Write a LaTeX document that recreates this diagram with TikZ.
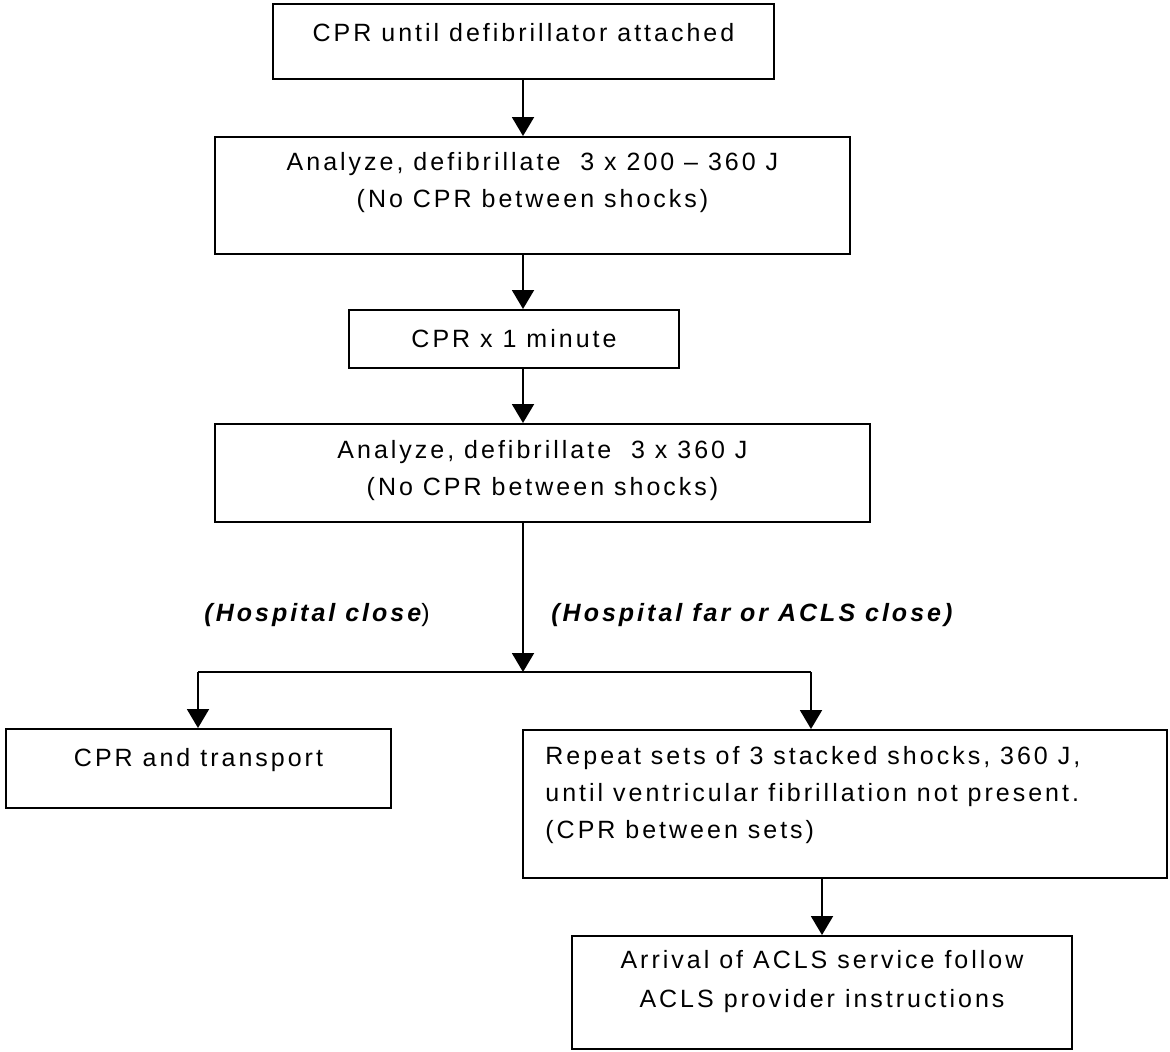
\documentclass[tikz,border=0pt]{standalone}
\usepackage{fontspec}
\newfontfamily\flowfont{Liberation Sans}[LetterSpace=12,Ligatures=NoCommon]
\usetikzlibrary{arrows.meta}
\begin{document}
\begin{tikzpicture}[x=0.5pt,y=-0.5pt,
  box/.style={draw, line width=1pt, rectangle, inner sep=0pt},
  txt/.style={font=\flowfont\fontsize{12.5}{18.5}\selectfont, inner sep=0pt, align=center},
  lbl/.style={font=\flowfont\fontsize{12.5}{18.5}\selectfont, inner sep=0pt},
  flow/.style={line width=1pt, -{Triangle[width=11pt,length=9.5pt]}},
  link/.style={line width=1pt}]

\useasboundingbox (0,0) rectangle (1170,1051);

% boxes
\node[box, minimum width=250.5pt, minimum height=37.5pt] (b1) at (523.5,41.5) {};
\node[box, minimum width=317.5pt, minimum height=58.5pt] (b2) at (532.5,195.5) {};
\node[box, minimum width=165pt,   minimum height=29pt]   (b3) at (514,339) {};
\node[box, minimum width=327.5pt, minimum height=49pt]   (b4) at (542.5,473) {};
\node[box, minimum width=192.5pt, minimum height=39.5pt] (b5) at (198.5,768.5) {};
\node[box, minimum width=322pt,   minimum height=74pt]   (b6) at (845,804) {};
\node[box, minimum width=250pt,   minimum height=56.5pt] (b7) at (822,992.5) {};

% box texts
\node[txt] (t1) at (523.5,33) {CPR until defibrillator attached};
\node[txt] (t2) at (532.5,183) {Analyze, defibrillate\ \ 3 x 200 – 360 J\\(No CPR between shocks)};
\node[txt] (t3) at (514,339) {CPR x 1 minute};
\node[txt] (t4) at (542.5,471) {Analyze, defibrillate\ \ 3 x 360 J\\(No CPR between shocks)};
\node[txt] (t5) at (198.5,760) {CPR and transport};
\node[txt, align=left, anchor=west] (t6) at (545,795) {Repeat sets of 3 stacked shocks, 360 J,\\until ventricular fibrillation not present.\\(CPR between sets)};
\node[txt, font=\flowfont\fontsize{12.5}{19.5}\selectfont] (t7) at (822,982) {Arrival of ACLS service follow\\ACLS provider instructions};

% branch labels
\node[lbl, anchor=east] (l1) at (430,615) {{\bfseries\itshape (Hospital close})};
\node[lbl, anchor=west] (l2) at (551,615) {\bfseries\itshape (Hospital far or ACLS close)};

% junction points
\coordinate (j)  at (523,672);
\coordinate (jl) at (198,672);
\coordinate (jr) at (811,672);

% connectors
\draw[flow] (b1.south -| j) -- (b2.north -| j);
\draw[flow] (b2.south -| j) -- (b3.north -| j);
\draw[flow] (b3.south -| j) -- (b4.north -| j);
\draw[flow] (b4.south -| j) -- (j);
\draw[link] (jl) -- (jr);
\draw[flow] (jl) -- (jl |- b5.north);
\draw[flow] (jr) -- (jr |- b6.north);
\draw[flow] (b6.south -| b7.north) -- (b7.north);

\end{tikzpicture}
\end{document}
